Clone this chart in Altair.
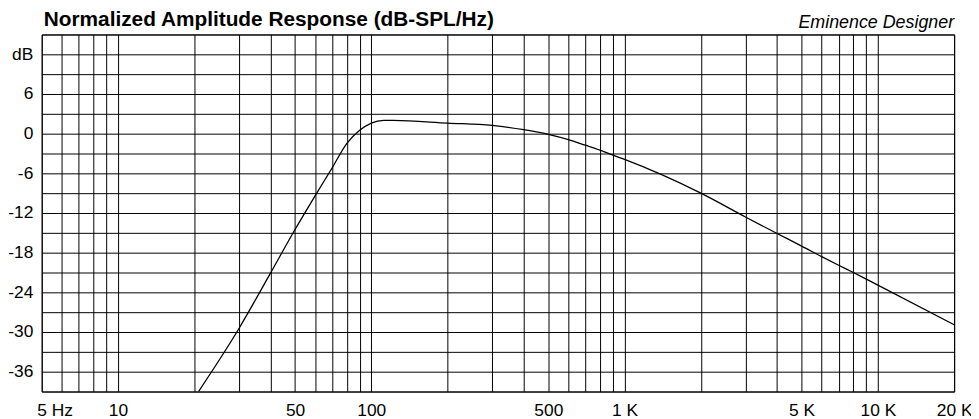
import altair as alt
import pandas as pd

# ---- data ----
freq_hz = [20.8, 30, 40, 50, 60, 70, 80, 90, 100, 112, 122, 200, 300, 400,
           500, 600, 700, 800, 900, 1000, 2000, 3000, 4000, 5000, 6000,
           7000, 8000, 9000, 10000, 20000]
level_db = [-39.0, -29.5, -21.1, -14.5, -9.4, -5.2, -1.5, 0.5, 1.6, 2.0,
            2.0, 1.6, 1.25, 0.6, -0.1, -0.9, -1.75, -2.5, -3.25, -3.9,
            -9.0, -12.6, -15.1, -17.0, -18.6, -19.9, -21.0, -22.0, -22.9, -28.9]

x_grid = [5, 6, 7, 8, 9, 10, 20, 30, 40, 50, 60, 70, 80, 90, 100, 200, 300, 400,
          500, 600, 700, 800, 900, 1000, 2000, 3000, 4000, 5000, 6000, 7000,
          8000, 9000, 10000, 20000]
x_label_values = [5, 10, 50, 100, 500, 1000, 5000, 10000, 20000]
x_label_text = ["5 Hz", "10", "50", "100", "500", "1 K", "5 K", "10 K", "20 K"]

y_grid = [-39, -36, -33, -30, -27, -24, -21, -18, -15, -12, -9, -6, -3, 0, 3,
          6, 9, 12, 15]
y_label_values = [-36, -30, -24, -18, -12, -6, 0, 6, 12]
y_label_text = ["-36", "-30", "-24", "-18", "-12", "-6", "0", "6", "dB"]

title_text = "Normalized Amplitude Response (dB-SPL/Hz)"
credit_text = "Eminence Designer"

FONT = "Liberation Sans"


def label_expr(values, texts):
    expr = "''"
    for v, t in reversed(list(zip(values, texts))):
        expr = f"datum.value == {v} ? '{t}' : ({expr})"
    return expr


df = pd.DataFrame({"freq": freq_hz, "db": level_db})

x_enc = alt.X(
    "freq:Q",
    scale=alt.Scale(type="log", domain=[5, 20000], nice=False),
    axis=alt.Axis(
        values=x_grid,
        labelExpr=label_expr(x_label_values, x_label_text),
        grid=True, gridColor="#000000", gridWidth=1, gridOpacity=1,
        ticks=False, tickSize=0, domain=False,
        labelFont=FONT, labelFontSize=17.5, labelColor="#000000",
        labelPadding=10, labelOverlap=False, labelFlush=False, labelBound=False,
        labelAlign={"condition": {"test": "datum.value == 5", "value": "left"}, "value": "center"},
        labelOffset={"condition": {"test": "datum.value == 5", "value": -5}, "value": 0},
        title=None,
    ),
)

y_enc = alt.Y(
    "db:Q",
    scale=alt.Scale(domain=[-39, 15], nice=False, zero=False),
    axis=alt.Axis(
        values=y_grid,
        labelExpr=label_expr(y_label_values, y_label_text),
        grid=True, gridColor="#000000", gridWidth=1, gridOpacity=1,
        ticks=False, tickSize=0, domain=False,
        labelFont=FONT, labelFontSize=17.5, labelColor="#000000",
        labelPadding=9, labelOverlap=False, labelBound=False,
        title=None,
    ),
)

line = alt.Chart(df).mark_line(
    color="#000000", strokeWidth=1.3, clip=True, interpolate="monotone"
).encode(x=x_enc, y=y_enc)

title = alt.Chart(pd.DataFrame({"t": [title_text]})).mark_text(
    align="left", baseline="alphabetic", font=FONT, fontWeight="bold",
    fontSize=21, color="#000000"
).encode(x=alt.value(2), y=alt.value(-8.3), text="t:N")

credit = alt.Chart(pd.DataFrame({"t": [credit_text]})).mark_text(
    align="right", baseline="alphabetic", font=FONT, fontStyle="italic",
    fontSize=18, color="#000000"
).encode(x=alt.value(920), y=alt.value(-7), text="t:N")

chart = alt.layer(line, title, credit).properties(
    width=920, height=360,
    autosize=alt.AutoSizeParams(type="none"),
    padding={"left": 34, "top": 25, "right": 17, "bottom": 26},
    background="white",
).configure_view(stroke="#000000", strokeWidth=1)

chart.save("out.html", embed_options={"renderer": "svg", "actions": False})
